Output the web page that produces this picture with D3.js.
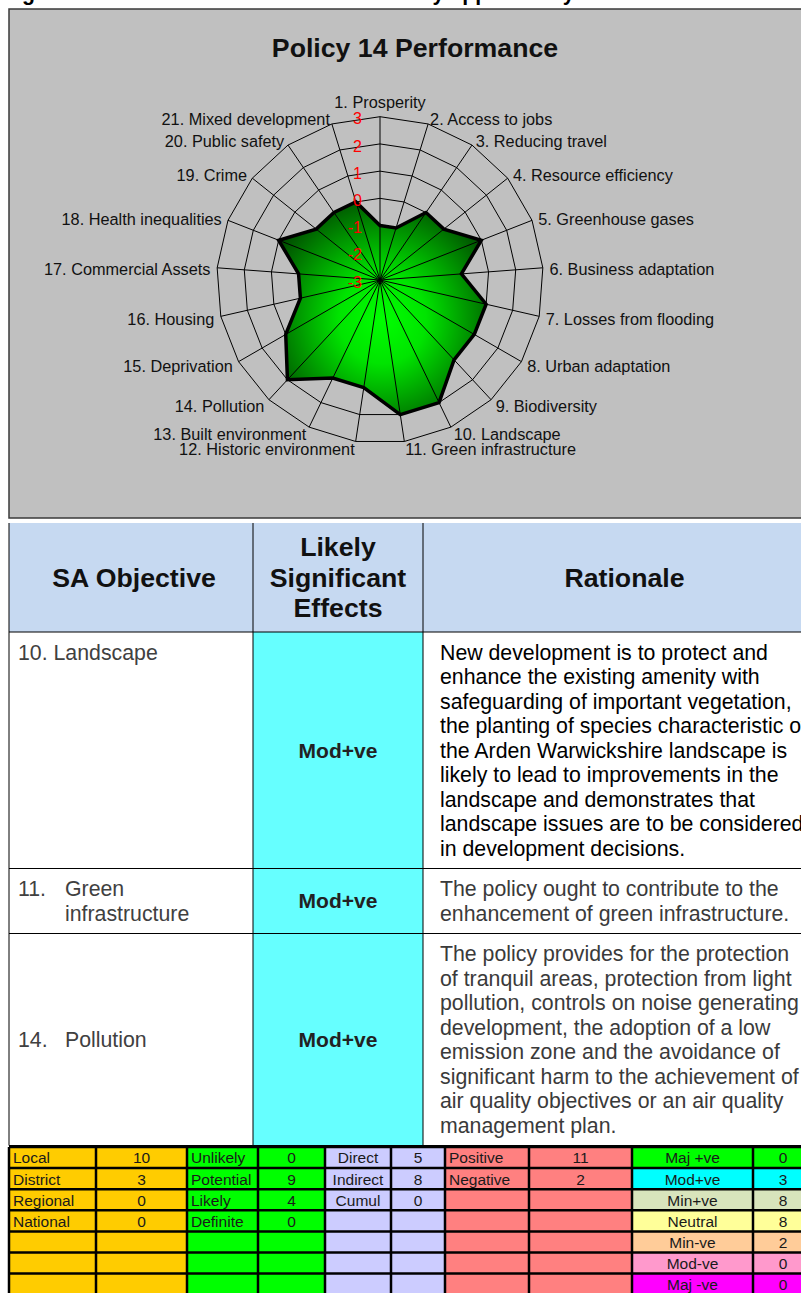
<!DOCTYPE html>
<html><head><meta charset="utf-8">
<script src="https://cdn.jsdelivr.net/npm/d3@7/dist/d3.min.js"></script>
<style>
html,body{margin:0;padding:0;background:#fff;overflow:hidden;}
svg{display:block;font-family:"Liberation Sans",Arial,Helvetica,sans-serif;}
</style>
</head><body>
<svg id="c" width="801" height="1293"></svg>
<script>
// ---------------- data ----------------
const headingText = "Figure 14: Final results of the Sustainability appraisal by";
const chartTitle = "Policy 14 Performance";
const axisLabels = [
  "1. Prosperity","2. Access to jobs","3. Reducing travel","4. Resource efficiency",
  "5. Greenhouse gases","6. Business adaptation","7. Losses from flooding","8. Urban adaptation",
  "9. Biodiversity","10. Landscape","11. Green infrastructure","12. Historic environment",
  "13. Built environment","14. Pollution","15. Deprivation","16. Housing",
  "17. Commercial Assets","18. Health inequalities","19. Crime","20. Public safety",
  "21. Mixed development"
];
const scores = [-1,-1,0,0,1,0,1,1,1,2,2,1,1,2,1,0,0,1,0,0,0];
const tickValues = [-3,-2,-1,0,1,2,3];

const headerCols = [["SA Objective"],["Likely","Significant","Effects"],["Rationale"]];
const objNums = ["10.","11.","14."];
const objNames = [["Landscape"],["Green","infrastructure"],["Pollution"]];
const effects = ["Mod+ve","Mod+ve","Mod+ve"];
const rationale = [
  ["New development is to protect and",
   "enhance the existing amenity with",
   "safeguarding of important vegetation,",
   "the planting of species characteristic of",
   "the Arden Warwickshire landscape is",
   "likely to lead to improvements in the",
   "landscape and demonstrates that",
   "landscape issues are to be considered",
   "in development decisions."],
  ["The policy ought to contribute to the",
   "enhancement of green infrastructure."],
  ["The policy provides for the protection",
   "of tranquil areas, protection from light",
   "pollution, controls on noise generating",
   "development, the adoption of a low",
   "emission zone and the avoidance of",
   "significant harm to the achievement of",
   "air quality objectives or an air quality",
   "management plan."]
];

const scaleLabels = ["Local","District","Regional","National"];
const scaleCounts = [10,3,0,0];
const likelihoodLabels = ["Unlikely","Potential","Likely","Definite"];
const likelihoodCounts = [0,9,4,0];
const typeLabels = ["Direct","Indirect","Cumul"];
const typeCounts = [5,8,0];
const signLabels = ["Positive","Negative"];
const signCounts = [11,2];
const effectLabels = ["Maj +ve","Mod+ve","Min+ve","Neutral","Min-ve","Mod-ve","Maj -ve"];
const effectCounts = [0,3,8,8,2,0,0];

// ---------------- drawing ----------------
const svg = d3.select("#c");
const defs = svg.append("defs");
const grad = defs.append("radialGradient").attr("id","gfill")
  .attr("cx","0.5").attr("cy","0.55").attr("r","0.6");
grad.append("stop").attr("offset","0%").attr("stop-color","#00ff00");
grad.append("stop").attr("offset","35%").attr("stop-color","#00e400");
grad.append("stop").attr("offset","100%").attr("stop-color","#004d00");

// partial heading (cut off at top)
svg.append("text").attr("x",3).attr("y",0).attr("font-size",21.3).attr("font-weight","bold")
  .attr("fill","#000").text(headingText);

// chart area box
svg.append("rect").attr("x",9).attr("y",9).attr("width",812).attr("height",509)
  .attr("fill","#c0c0c0").attr("stroke","#3a3a3a").attr("stroke-width",1.5);

svg.append("text").attr("x",415).attr("y",48).attr("dy","0.35em")
  .attr("text-anchor","middle").attr("font-size",26.7).attr("font-weight","bold")
  .attr("fill","#111").text(chartTitle);

const cx = 380, cy = 280, R = 163.3, n = axisLabels.length;
const rScale = d3.scaleLinear().domain([d3.min(tickValues), d3.max(tickValues)]).range([0, R]);
const aScale = d3.scaleLinear().domain([0, n]).range([0, 2*Math.PI]);
const radial = d3.lineRadial().angle((d,i)=>aScale(i)).radius(d=>rScale(d)).curve(d3.curveLinearClosed);

const radar = svg.append("g").attr("transform",`translate(${cx},${cy})`);
// rings
radar.selectAll("path.ring").data(tickValues.filter(t=>t>d3.min(tickValues)))
  .join("path").attr("class","ring")
  .attr("d", t => radial(axisLabels.map(()=>t)))
  .attr("fill","none").attr("stroke","#000").attr("stroke-width",1);
// area fill
radar.append("path").attr("d", radial(scores)).attr("fill","url(#gfill)").attr("stroke","none");
// spokes
radar.selectAll("line.spoke").data(axisLabels).join("line").attr("class","spoke")
  .attr("x1",0).attr("y1",0)
  .attr("x2",(d,i)=>rScale(d3.max(tickValues))*Math.sin(aScale(i)))
  .attr("y2",(d,i)=>-rScale(d3.max(tickValues))*Math.cos(aScale(i)))
  .attr("stroke","#000").attr("stroke-width",1);
// area outline
radar.append("path").attr("d", radial(scores)).attr("fill","none")
  .attr("stroke","#000").attr("stroke-width",3.5).attr("stroke-linejoin","miter");
// tick labels
radar.selectAll("text.tick").data(tickValues).join("text").attr("class","tick")
  .attr("x",-18).attr("y",t=>-rScale(t)+2).attr("dy","0.35em")
  .attr("text-anchor","end").attr("font-size",16).attr("fill","#ff0000").text(t=>t);
// axis labels
const pad = 170;
radar.selectAll("text.axl").data(axisLabels).join("text").attr("class","axl")
  .each(function(d,i){
    const th = aScale(i), s = Math.sin(th), c = Math.cos(th);
    const px = pad*s, py = -pad*c;
    d3.select(this).attr("x",px).attr("y", py + (c>0.99 ? -8 : 1.5)).attr("dy","0.35em")
      .attr("text-anchor", Math.abs(s)<0.05 ? "middle" : (s>0 ? "start":"end"));
  })
  .attr("font-size",16.3).attr("fill","#111").text(d=>d);

// ---------------- main table ----------------
const colX = [9, 253, 423, 826];
const headTop = 523, headBot = 632, lineH = 24.5, rowPad = 8;
const tbl = svg.append("g");
tbl.append("rect").attr("x",colX[0]).attr("y",headTop).attr("width",colX[3]-colX[0]).attr("height",headBot-headTop)
  .attr("fill","#c6d9f1");
headerCols.forEach((lines,ci)=>{
  const xm = (colX[ci]+colX[ci+1])/2 + (ci===0?3:0);
  const ym = (headTop+headBot)/2;
  lines.forEach((ln,li)=>{
    tbl.append("text").attr("x",xm).attr("y", ym + (li-(lines.length-1)/2)*30.5).attr("dy","0.35em")
      .attr("text-anchor","middle").attr("font-size",26.7).attr("font-weight","bold").attr("fill","#111").text(ln);
  });
});
let rowTops = [];
let yy = headBot;
rationale.forEach(r=>{ rowTops.push(yy); yy += r.length*lineH + 2*rowPad; });
const tableBot = yy;
const ratColors = ["#000","#3a3a3a","#3a3a3a"];
rationale.forEach((lines,ri)=>{
  const top = rowTops[ri], bot = ri<rationale.length-1 ? rowTops[ri+1] : tableBot;
  tbl.append("rect").attr("x",colX[1]).attr("y",top).attr("width",colX[2]-colX[1]).attr("height",bot-top)
    .attr("fill","#66ffff");
  // objective
  const names = objNames[ri];
  const firstY = top + rowPad + lineH/2;
  if (ri===0) {
    tbl.append("text").attr("x",18).attr("y",firstY).attr("dy","0.35em").attr("font-size",21.3)
      .attr("fill","#404040").text(objNums[ri]+" "+names[0]);
  } else {
    const oy = ri===2 ? (top+bot)/2 - (names.length-1)*lineH/2 : firstY;
    tbl.append("text").attr("x",18).attr("y",oy).attr("dy","0.35em").attr("font-size",21.3)
      .attr("fill","#404040").text(objNums[ri]);
    names.forEach((nm,k)=>{
      tbl.append("text").attr("x",65).attr("y",oy+k*lineH).attr("dy","0.35em").attr("font-size",21.3)
        .attr("fill","#404040").text(nm);
    });
  }
  // effect
  tbl.append("text").attr("x",(colX[1]+colX[2])/2).attr("y",(top+bot)/2).attr("dy","0.35em")
    .attr("text-anchor","middle").attr("font-size",21).attr("font-weight","bold").attr("fill","#222").text(effects[ri]);
  // rationale
  lines.forEach((ln,k)=>{
    tbl.append("text").attr("x",440).attr("y",firstY+k*lineH).attr("dy","0.35em").attr("font-size",21.3)
      .attr("fill",ratColors[ri]).text(ln);
  });
});
// grid lines
[headBot, ...rowTops.slice(1), tableBot].forEach(y=>{
  tbl.append("line").attr("x1",colX[0]).attr("x2",colX[3]).attr("y1",y).attr("y2",y).attr("stroke","#000").attr("stroke-width",1);
});
colX.slice(0,3).forEach(x=>{
  tbl.append("line").attr("x1",x).attr("x2",x).attr("y1",headTop).attr("y2",tableBot).attr("stroke","#000").attr("stroke-width",1);
});

// ---------------- summary table ----------------
const sTop = 1147, sRowH = 21.1, sRows = 7;
const groups = [
  {labels:scaleLabels, counts:scaleCounts, fill:()=> "#ffcc00", align:"start", x:[9,96,187]},
  {labels:likelihoodLabels, counts:likelihoodCounts, fill:()=> "#00ff00", align:"start", x:[187,258,325]},
  {labels:typeLabels, counts:typeCounts, fill:()=> "#ccccff", align:"middle", x:[325,391,445]},
  {labels:signLabels, counts:signCounts, fill:()=> "#ff8080", align:"start", x:[445,529,632]},
  {labels:effectLabels, counts:effectCounts, fill:(i)=>["#00ff00","#00ffff","#d8e4bc","#ffff99","#ffcc99","#ff99cc","#ff00ff"][i], align:"middle", x:[632,753,813]}
];
const sg = svg.append("g");
groups.forEach(g=>{
  for (let i=0;i<sRows;i++){
    const y0 = sTop + i*sRowH;
    sg.append("rect").attr("x",g.x[0]).attr("y",y0).attr("width",g.x[2]-g.x[0]).attr("height",sRowH).attr("fill",g.fill(i));
    if (i < g.labels.length) {
      sg.append("text").attr("x", g.align==="start" ? g.x[0]+4 : (g.x[0]+g.x[1])/2)
        .attr("y", y0+sRowH/2+0.5).attr("dy","0.35em").attr("text-anchor",g.align)
        .attr("font-size",15.5).attr("fill","#1a1a1a").text(g.labels[i]);
      sg.append("text").attr("x",(g.x[1]+g.x[2])/2).attr("y", y0+sRowH/2+0.5).attr("dy","0.35em")
        .attr("text-anchor","middle").attr("font-size",15.5).attr("fill","#1a1a1a").text(g.counts[i]);
    }
  }
});
const allX = [9,96,187,258,325,391,445,529,632,753,813];
allX.forEach(x=>{
  sg.append("line").attr("x1",x).attr("x2",x).attr("y1",sTop).attr("y2",sTop+sRows*sRowH).attr("stroke","#000").attr("stroke-width",2.5);
});
d3.range(sRows+1).forEach(i=>{
  const y = sTop + i*sRowH;
  sg.append("line").attr("x1",9).attr("x2",813).attr("y1",y).attr("y2",y).attr("stroke","#000").attr("stroke-width",2.5);
});
</script>
</body></html>
